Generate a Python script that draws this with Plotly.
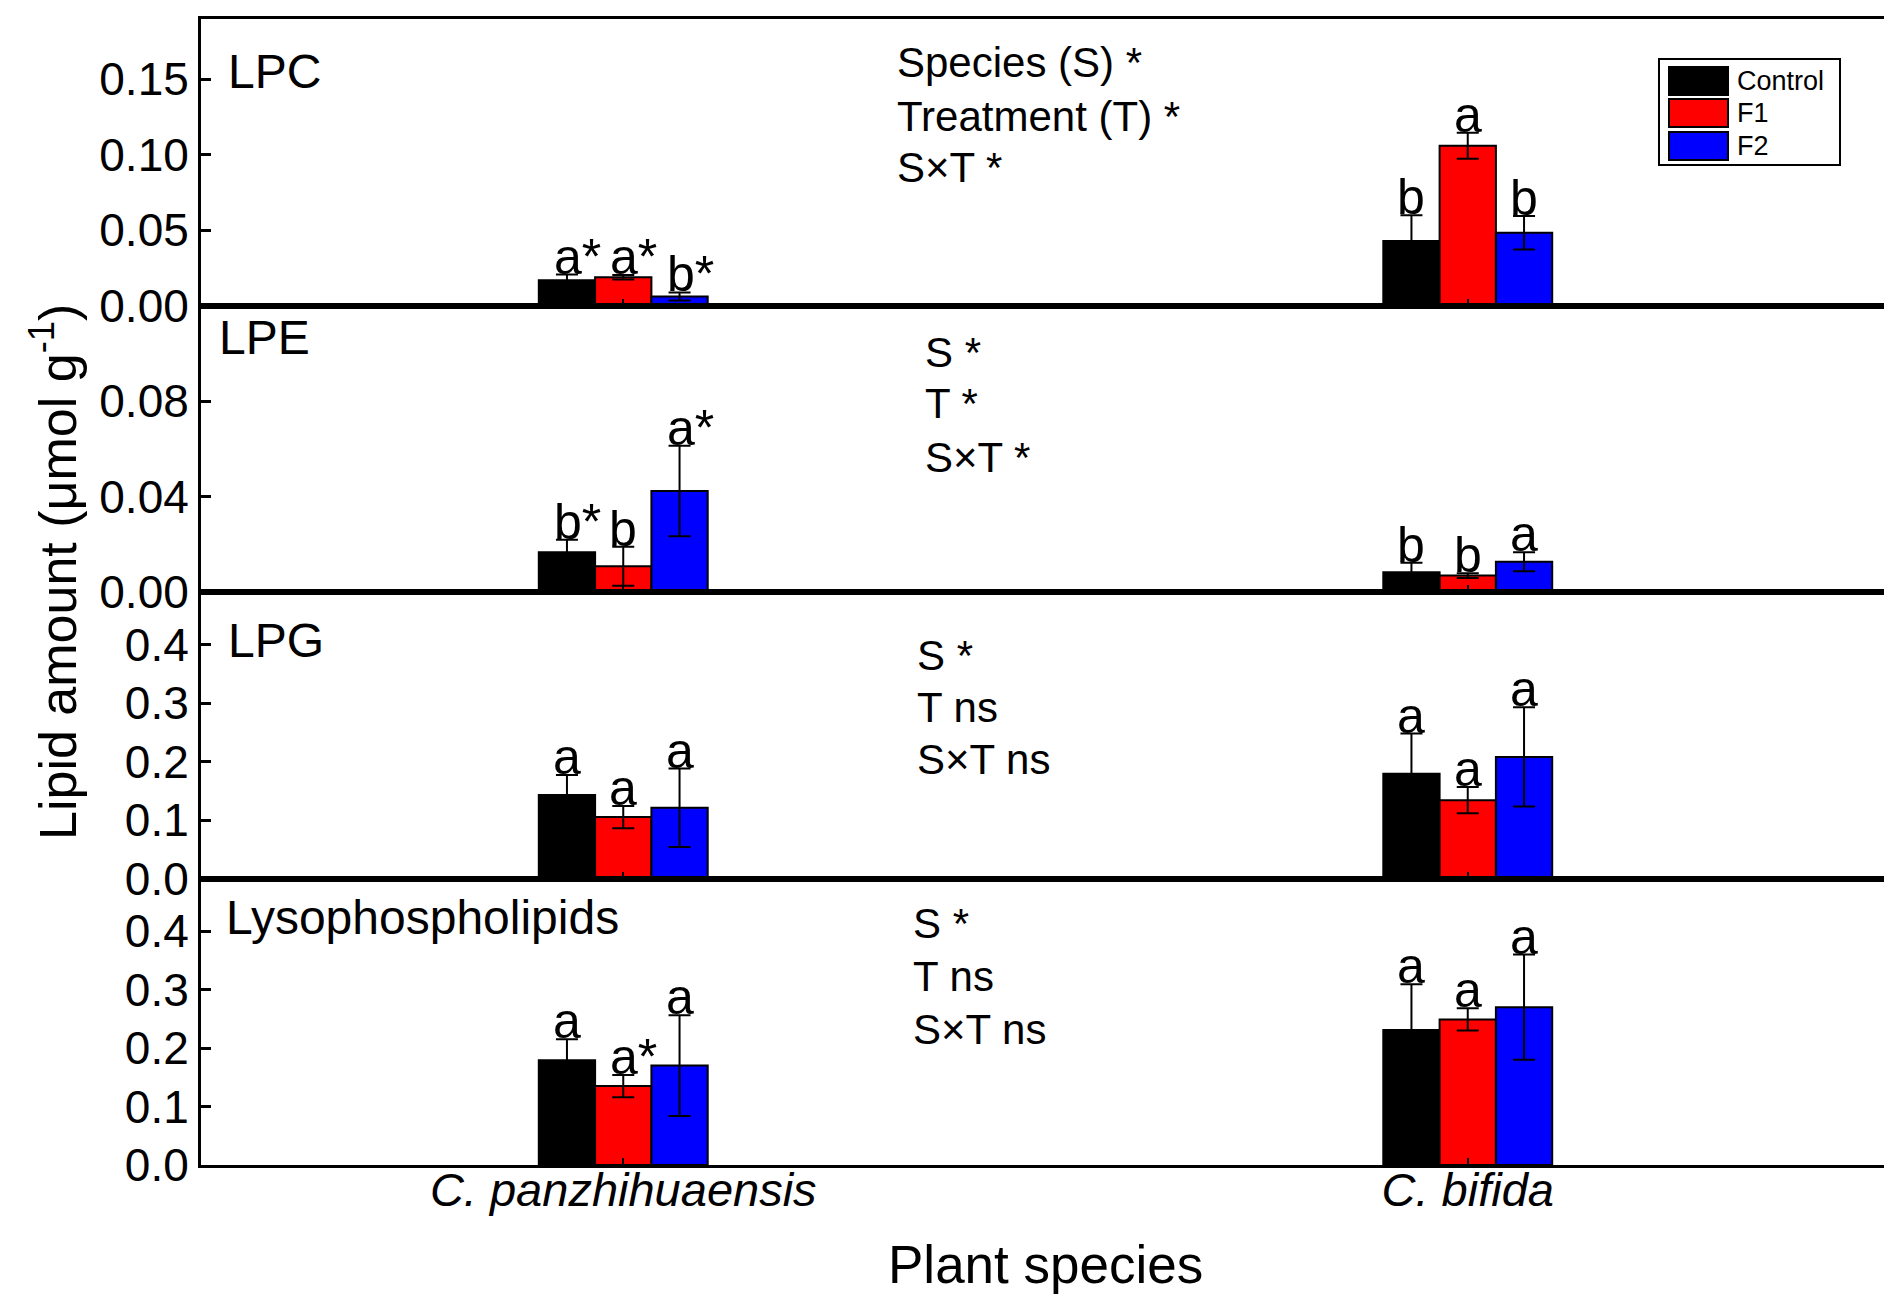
import plotly.graph_objects as go
from plotly.subplots import make_subplots

# ---------------- data ----------------
species = ["C. panzhihuaensis", "C. bifida"]
treatments = ["Control", "F1", "F2"]
panel_names = ["LPC", "LPE", "LPG", "Lysophospholipids"]

# LPC
lpc_control = [0.0167, 0.0427]
lpc_f1 = [0.0187, 0.1060]
lpc_f2 = [0.0060, 0.0483]
lpc_control_err = [0.0038, 0.0172]
lpc_f1_err = [0.0015, 0.0086]
lpc_f2_err = [0.0027, 0.0111]
lpc_letters = [["a*", "b"], ["a*", "a"], ["b*", "b"]]
lpc_stats = ["Species (S) *", "Treatment (T) *", "S×T *"]

# LPE
lpe_control = [0.0166, 0.0083]
lpe_f1 = [0.0108, 0.0069]
lpe_f2 = [0.0423, 0.0127]
lpe_control_err = [0.0053, 0.0040]
lpe_f1_err = [0.0082, 0.0010]
lpe_f2_err = [0.0190, 0.0040]
lpe_letters = [["b*", "b"], ["b", "b"], ["a*", "a"]]
lpe_stats = ["S *", "T *", "S×T *"]

# LPG
lpg_control = [0.143, 0.179]
lpg_f1 = [0.105, 0.134]
lpg_f2 = [0.121, 0.208]
lpg_control_err = [0.034, 0.069]
lpg_f1_err = [0.019, 0.0225]
lpg_f2_err = [0.067, 0.085]
lpg_letters = [["a", "a"], ["a", "a"], ["a", "a"]]
lpg_stats = ["S *", "T ns", "S×T ns"]

# Lysophospholipids (total)
lyso_control = [0.179, 0.231]
lyso_f1 = [0.135, 0.249]
lyso_f2 = [0.170, 0.270]
lyso_control_err = [0.036, 0.078]
lyso_f1_err = [0.019, 0.019]
lyso_f2_err = [0.086, 0.090]
lyso_letters = [["a", "a"], ["a*", "a"], ["a", "a"]]
lyso_stats = ["S *", "T ns", "S×T ns"]

y_ranges = [[0, 0.19], [0, 0.12], [0, 0.49], [0, 0.49]]
y_ticks = [[0, 0.05, 0.10, 0.15], [0, 0.04, 0.08], [0, 0.1, 0.2, 0.3, 0.4], [0, 0.1, 0.2, 0.3, 0.4]]
y_formats = [".2f", ".2f", ".1f", ".1f"]

panels = [
    ([lpc_control, lpc_f1, lpc_f2], [lpc_control_err, lpc_f1_err, lpc_f2_err], lpc_letters, lpc_stats),
    ([lpe_control, lpe_f1, lpe_f2], [lpe_control_err, lpe_f1_err, lpe_f2_err], lpe_letters, lpe_stats),
    ([lpg_control, lpg_f1, lpg_f2], [lpg_control_err, lpg_f1_err, lpg_f2_err], lpg_letters, lpg_stats),
    ([lyso_control, lyso_f1, lyso_f2], [lyso_control_err, lyso_f1_err, lyso_f2_err], lyso_letters, lyso_stats),
]

colors = ["#000000", "#ff0000", "#0000ff"]
FONT = "Liberation Sans, Arial, sans-serif"

# ---------------- layout geometry (pixels) ----------------
W, H = 1892, 1300
L, R, T, B = 193, 10, 11, 143
PW, PH = W - L - R, H - T - B


def px(xp):
    return (xp - L) / PW


def py(yp):
    return (H - B - yp) / PH


fig = make_subplots(rows=4, cols=1, shared_xaxes=False, vertical_spacing=0)

xpos = [0, 1]
group_w = 0.2
bar_w = group_w / 3

for r, (means, errs, letters, stats) in enumerate(panels, start=1):
    for k, t in enumerate(treatments):
        fig.add_trace(
            go.Bar(
                x=xpos, y=means[k], name=t,
                marker=dict(color=colors[k], line=dict(color="black", width=2)),
                error_y=dict(type="data", array=errs[k], color="black", thickness=2, width=11),
                showlegend=False,
            ),
            row=r, col=1,
        )
        for i in range(len(xpos)):
            lab = letters[k][i]
            xref = "x" if r == 1 else f"x{r}"
            yref = "y" if r == 1 else f"y{r}"
            star = lab.endswith("*")
            fig.add_annotation(
                x=xpos[i] + (k - 1) * bar_w, y=means[k][i] + errs[k][i],
                xref=xref, yref=yref, text=lab, showarrow=False,
                xanchor="left" if star else "center", yanchor="bottom",
                xshift=-15 if star else 0, yshift=-12,
                font=dict(family=FONT, size=50, color="black"),
            )

    fig.update_yaxes(
        row=r, col=1, range=y_ranges[r - 1], tickvals=y_ticks[r - 1], tickformat=y_formats[r - 1],
        showline=True, linecolor="black", linewidth=3, mirror=True,
        ticks="inside", ticklen=10, tickwidth=3, tickcolor="black",
        showgrid=False, zeroline=False, automargin=False,
        tickfont=dict(family=FONT, size=46, color="black"),
    )
    fig.update_xaxes(
        row=r, col=1, range=[-0.5, 1.5], tickvals=xpos,
        ticktext=["<i>C. panzhihuaensis</i>", "<i>C. bifida</i>"],
        showticklabels=(r == 4),
        showline=True, linecolor="black", linewidth=3, mirror=True,
        ticks="inside", ticklen=7, tickwidth=2, tickcolor="black",
        showgrid=False, zeroline=False, automargin=False,
        ticklabelstandoff=-18,
        tickfont=dict(family=FONT, size=47, color="black"),
    )

# panel names
name_pos = [(218, 63), (209, 329), (218, 632), (216, 910)]
for name, (x, y) in zip(panel_names, name_pos):
    fig.add_annotation(x=px(x), y=py(y), xref="paper", yref="paper", text=name,
                       showarrow=False, xanchor="left", yanchor="middle",
                       font=dict(family=FONT, size=48, color="black"))

# statistics text
stat_pos = [
    (887, [55, 109, 159]),
    (915, [344, 395, 449]),
    (907, [647, 700, 752]),
    (903, [915, 968, 1021]),
]
for (means, errs, letters, stats), (x, ys) in zip(panels, stat_pos):
    for s, y in zip(stats, ys):
        fig.add_annotation(x=px(x), y=py(y), xref="paper", yref="paper", text=s,
                           showarrow=False, xanchor="left", yanchor="middle",
                           font=dict(family=FONT, size=42, color="black"))

# axis titles
fig.add_annotation(x=px(46), y=py(564), xref="paper", yref="paper",
                   text="Lipid amount (μmol g<sup>-1</sup>)", textangle=-90,
                   showarrow=False, xanchor="center", yanchor="middle",
                   font=dict(family=FONT, size=52, color="black"))
fig.add_annotation(x=0.5, y=py(1256), xref="paper", yref="paper",
                   text="Plant species", showarrow=False, xanchor="center", yanchor="middle",
                   font=dict(family=FONT, size=53, color="black"))

# custom legend (box + swatches)
fig.add_shape(type="rect", xref="paper", yref="paper",
              x0=px(1651), x1=px(1832), y0=py(157), y1=py(51),
              line=dict(color="black", width=2), fillcolor="white")
row_y = [73, 105, 138]
for k, t in enumerate(treatments):
    fig.add_shape(type="rect", xref="paper", yref="paper",
                  x0=px(1661), x1=px(1720), y0=py(row_y[k] + 14), y1=py(row_y[k] - 14),
                  line=dict(color="black", width=2), fillcolor=colors[k])
    fig.add_annotation(x=px(1727), y=py(row_y[k]), xref="paper", yref="paper", text=t,
                       showarrow=False, xanchor="left", yanchor="middle",
                       font=dict(family=FONT, size=27, color="black"))

fig.update_layout(
    width=W, height=H,
    margin=dict(l=L, r=R, t=T, b=B, autoexpand=False),
    barmode="group", bargap=0.8, bargroupgap=0,
    plot_bgcolor="white", paper_bgcolor="white",
    font=dict(family=FONT, color="black"),
)

fig.write_html("out.html")
